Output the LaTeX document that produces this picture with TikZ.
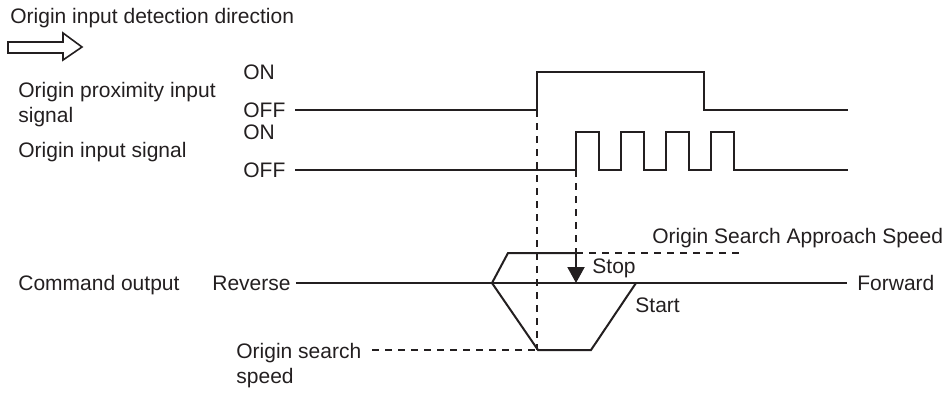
\documentclass[tikz,border=0pt]{standalone}
\usepackage{fontspec}
\setmainfont{Liberation Sans}
\usetikzlibrary{arrows.meta,positioning}
\definecolor{Ink}{HTML}{231F20}

\begin{document}
\begin{tikzpicture}[
  x=0.5pt,y=-0.5pt,
  lbl/.style={anchor=base west,inner sep=0pt,text=Ink,align=left,font=\fontsize{10.5}{12.5}\selectfont},
  sig/.style={line width=1pt,draw=Ink,line join=miter},
  guide/.style={line width=0.75pt,draw=Ink,dash pattern=on 3.5pt off 3pt},
  hollow/.style={line width=0.8pt,draw=Ink,fill=white,line join=miter}
]
\useasboundingbox (0,0) rectangle (948,392);
% labels
\node[lbl] (title) at (10,23) {Origin input detection direction};
\node[lbl] (prox) at (18,122) {Origin proximity input\\signal};
\node[lbl] (inp) at (18,157) {Origin input signal};
\node[lbl] (cmd) at (18,290) {Command output};
\node[lbl] (on1) at (243,79) {ON};
\node[lbl] (off1) at (243,117) {OFF};
\node[lbl] (on2) at (243,139) {ON};
\node[lbl] (off2) at (243,177) {OFF};
\node[lbl] (rev) at (212,290) {Reverse};
\node[lbl] (fwd) at (857,290) {Forward};
\node[lbl] (approach) at (652,243) {Origin Search Approach Speed};
\node[lbl] (stop) at (592,273) {Stop};
\node[lbl] (start) at (635,312) {Start};
\node[lbl] (search) at (236,383) {Origin search\\speed};
% direction arrow
\draw[hollow] (8,42) -- (63,42) -- (63,33) -- (82,47) -- (63,60) -- (63,53) -- (8,53) -- cycle;
% timing signals
\draw[sig] (295,110) -- (537,110) -- (537,72) -- (704,72) -- (704,110) -- (848,110);
\draw[sig] (295,170) \foreach \x in {576,621,666,711}{ -- (\x,170) -- (\x,132) -- (\x+23,132) -- (\x+23,170)} -- (848,170);
% command output
\coordinate (zl) at (rev.east |- 0,283);
\coordinate (zr) at (fwd.west |- 0,283);
\draw[sig] ([xshift=2.5pt]zl) -- ([xshift=-5pt]zr);
\draw[sig] (576,253) -- (508,253) -- (492,283) -- (538,350) -- (591,350) -- (636,283);
\draw[sig,-{Triangle[length=8pt,width=8.5pt]}] (576,253) -- (576,283);
% guides
\draw[guide] (537,110) -- (537,350);
\draw[guide] (576,170) -- (576,253);
\draw[guide] (576,253) -- (743,253);
\draw[guide] (372,350) -- (538,350);
\end{tikzpicture}
\end{document}
